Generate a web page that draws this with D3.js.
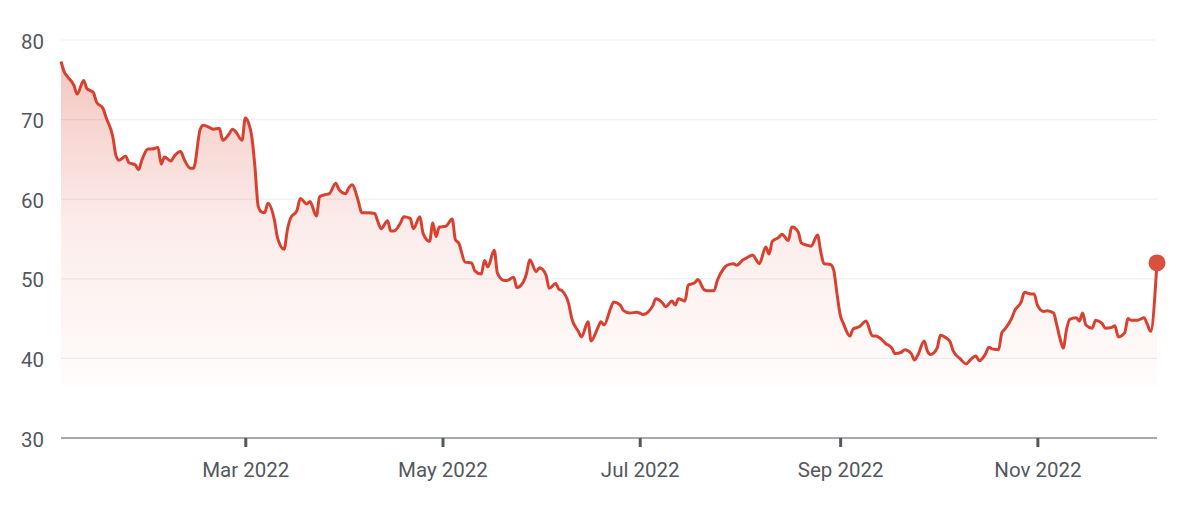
<!DOCTYPE html>
<html>
<head>
<meta charset="utf-8">
<script src="https://cdn.jsdelivr.net/npm/d3@7"></script>
<style>
  html, body { margin: 0; padding: 0; background: #fff; }
  #chart { width: 1200px; height: 506px; }
  text { font-family: Roboto, "Noto Sans", sans-serif; }
</style>
</head>
<body>
<div id="chart"></div>
<script>
// daily closes
const dates = [
  "2022-01-03","2022-01-04","2022-01-05","2022-01-07","2022-01-08","2022-01-10","2022-01-11","2022-01-13","2022-01-14","2022-01-16",
  "2022-01-17","2022-01-19","2022-01-20","2022-01-21","2022-01-23","2022-01-24","2022-01-26","2022-01-27","2022-01-28","2022-01-30",
  "2022-01-31","2022-02-02","2022-02-03","2022-02-04","2022-02-06","2022-02-07","2022-02-09","2022-02-10","2022-02-12","2022-02-13",
  "2022-02-15","2022-02-16","2022-02-18","2022-02-19","2022-02-21","2022-02-22","2022-02-24","2022-02-25","2022-02-26","2022-02-28",
  "2022-03-01","2022-03-02","2022-03-03","2022-03-04","2022-03-05","2022-03-06","2022-03-07","2022-03-08","2022-03-10","2022-03-11",
  "2022-03-13","2022-03-14","2022-03-15","2022-03-17","2022-03-18","2022-03-20","2022-03-21","2022-03-23","2022-03-24","2022-03-26",
  "2022-03-27","2022-03-29","2022-03-30","2022-04-01","2022-04-02","2022-04-03","2022-04-05","2022-04-06","2022-04-08","2022-04-10",
  "2022-04-11","2022-04-12","2022-04-14","2022-04-15","2022-04-16","2022-04-18","2022-04-19","2022-04-21","2022-04-22","2022-04-24",
  "2022-04-25","2022-04-27","2022-04-28","2022-04-29","2022-04-30","2022-05-02","2022-05-04","2022-05-05","2022-05-06","2022-05-08",
  "2022-05-10","2022-05-11","2022-05-13","2022-05-14","2022-05-15","2022-05-17","2022-05-18","2022-05-20","2022-05-21","2022-05-23",
  "2022-05-24","2022-05-26","2022-05-27","2022-05-28","2022-05-30","2022-05-31","2022-06-02","2022-06-03","2022-06-05","2022-06-06",
  "2022-06-07","2022-06-09","2022-06-10","2022-06-12","2022-06-13","2022-06-15","2022-06-16","2022-06-18","2022-06-19","2022-06-20",
  "2022-06-22","2022-06-23","2022-06-25","2022-06-26","2022-06-28","2022-06-30","2022-07-01","2022-07-02","2022-07-04","2022-07-05",
  "2022-07-06","2022-07-08","2022-07-09","2022-07-11","2022-07-12","2022-07-13","2022-07-15","2022-07-16","2022-07-18","2022-07-19",
  "2022-07-21","2022-07-22","2022-07-24","2022-07-25","2022-07-27","2022-07-28","2022-07-30","2022-07-31","2022-08-02","2022-08-03",
  "2022-08-05","2022-08-06","2022-08-07","2022-08-09","2022-08-10","2022-08-11","2022-08-13","2022-08-14","2022-08-16","2022-08-17",
  "2022-08-19","2022-08-20","2022-08-22","2022-08-23","2022-08-25","2022-08-26","2022-08-27","2022-08-29","2022-08-30","2022-08-31",
  "2022-09-01","2022-09-02","2022-09-04","2022-09-05","2022-09-07","2022-09-08","2022-09-09","2022-09-11","2022-09-12","2022-09-14",
  "2022-09-15","2022-09-17","2022-09-18","2022-09-20","2022-09-21","2022-09-23","2022-09-24","2022-09-25","2022-09-27","2022-09-28",
  "2022-09-29","2022-10-01","2022-10-02","2022-10-04","2022-10-05","2022-10-06","2022-10-08","2022-10-10","2022-10-11","2022-10-13",
  "2022-10-14","2022-10-16","2022-10-17","2022-10-18","2022-10-20","2022-10-21","2022-10-22","2022-10-24","2022-10-25","2022-10-27",
  "2022-10-28","2022-10-30","2022-10-31","2022-11-01","2022-11-03","2022-11-04","2022-11-06","2022-11-07","2022-11-08","2022-11-09",
  "2022-11-10","2022-11-11","2022-11-13","2022-11-14","2022-11-15","2022-11-16","2022-11-18","2022-11-19","2022-11-21","2022-11-22",
  "2022-11-24","2022-11-25","2022-11-26","2022-11-28","2022-11-29","2022-11-30","2022-12-02","2022-12-04","2022-12-05","2022-12-06",
  "2022-12-08"
];

const closes = [
  77.3, 76.0, 75.4, 74.3, 73.2, 74.9, 73.9, 73.4, 72.2, 71.4,
  70.2, 67.9, 65.5, 64.9, 65.4, 64.6, 64.3, 63.7, 64.9, 66.3,
  66.3, 66.5, 64.4, 65.3, 64.8, 65.4, 66.0, 65.1, 63.9, 63.9,
  68.7, 69.3, 69.0, 68.8, 68.9, 67.4, 68.2, 68.8, 68.5, 67.4,
  70.2, 69.6, 67.9, 64.0, 59.1, 58.4, 58.3, 59.5, 57.4, 55.1,
  53.7, 56.1, 57.6, 58.6, 60.1, 59.4, 59.7, 57.9, 60.3, 60.6,
  60.7, 62.0, 61.2, 60.7, 61.4, 61.8, 59.7, 58.3, 58.3, 58.2,
  57.2, 56.3, 57.3, 56.0, 56.0, 57.0, 57.8, 57.6, 56.3, 57.8,
  55.7, 54.7, 57.0, 55.3, 56.5, 56.6, 57.5, 54.9, 54.5, 52.1,
  52.0, 51.0, 50.6, 52.3, 51.5, 53.6, 50.7, 49.8, 49.8, 50.2,
  48.9, 49.6, 50.7, 52.4, 50.9, 51.4, 50.5, 48.8, 49.4, 48.7,
  48.5, 46.9, 45.0, 43.4, 42.7, 44.6, 42.2, 43.8, 44.6, 44.2,
  46.3, 47.1, 46.7, 46.0, 45.7, 45.8, 45.7, 45.5, 46.0, 46.6,
  47.5, 47.0, 46.5, 47.2, 46.7, 47.5, 47.2, 49.2, 49.5, 49.9,
  48.6, 48.5, 48.5, 49.8, 51.3, 51.7, 51.9, 51.7, 52.4, 52.6,
  53.0, 52.4, 51.9, 54.0, 53.1, 54.7, 55.2, 55.6, 54.8, 56.5,
  55.9, 54.5, 54.2, 54.1, 55.5, 53.4, 51.9, 51.8, 51.1, 48.2,
  45.5, 44.4, 42.8, 43.7, 44.0, 44.4, 44.7, 42.8, 42.8, 42.3,
  41.9, 41.3, 40.6, 40.8, 41.1, 40.6, 39.8, 40.4, 42.2, 40.9,
  40.5, 41.3, 42.9, 42.5, 42.1, 40.9, 40.0, 39.3, 39.7, 40.3,
  39.7, 40.6, 41.4, 41.2, 41.1, 43.2, 43.7, 45.0, 46.0, 47.1,
  48.3, 48.1, 48.1, 46.7, 45.9, 46.0, 45.7, 44.2, 42.5, 41.3,
  43.6, 44.9, 45.1, 44.7, 45.7, 44.2, 43.8, 44.8, 44.4, 43.8,
  43.9, 44.1, 42.7, 43.2, 45.0, 44.8, 44.8, 45.1, 44.3, 43.4,
  52.0
];

const yTicks = [30, 40, 50, 60, 70, 80];
const xTicks = ["2022-03-01", "2022-05-01", "2022-07-01", "2022-09-01", "2022-11-01"];

const width = 1200, height = 506;
const margin = { top: 40, right: 43, bottom: 68, left: 61 };
const lineColor = "#d8412f";
const textColor = "#54585e";
const fontSize = 20.5;
const areaFloor = 36.6;

const parse = d3.utcParse("%Y-%m-%d");
const data = dates.map((d, i) => ({ date: parse(d), value: closes[i] }));

const x = d3.scaleUtc()
  .domain([parse("2022-01-03"), parse("2022-12-08")])
  .range([margin.left, width - margin.right]);

const y = d3.scaleLinear()
  .domain([30, 80])
  .range([height - margin.bottom, margin.top]);

const svg = d3.select("#chart")
  .append("svg")
  .attr("width", width)
  .attr("height", height);

const defs = svg.append("defs");
const grad = defs.append("linearGradient")
  .attr("id", "fade")
  .attr("gradientUnits", "userSpaceOnUse")
  .attr("x1", 0).attr("x2", 0)
  .attr("y1", y(d3.max(closes)))
  .attr("y2", y(areaFloor));
grad.append("stop").attr("offset", "0%").attr("stop-color", lineColor).attr("stop-opacity", 0.3);
grad.append("stop").attr("offset", "50%").attr("stop-color", lineColor).attr("stop-opacity", 0.1);
grad.append("stop").attr("offset", "100%").attr("stop-color", lineColor).attr("stop-opacity", 0.015);

// grid
svg.append("g")
  .selectAll("line")
  .data(yTicks.filter(t => t > 30))
  .join("line")
  .attr("x1", margin.left)
  .attr("x2", width - margin.right)
  .attr("y1", d => y(d))
  .attr("y2", d => y(d))
  .attr("stroke", "#efefef")
  .attr("stroke-width", 1.2);

// y labels
svg.append("g")
  .selectAll("text")
  .data(yTicks)
  .join("text")
  .attr("x", 44)
  .attr("y", d => y(d))
  .attr("dy", "0.42em")
  .attr("text-anchor", "end")
  .attr("font-size", fontSize)
  .attr("fill", textColor)
  .text(d => d);

const area = d3.area()
  .x(d => x(d.date))
  .y0(y(areaFloor))
  .y1(d => y(d.value))
  .curve(d3.curveMonotoneX);

const line = d3.line()
  .x(d => x(d.date))
  .y(d => y(d.value))
  .curve(d3.curveMonotoneX);

svg.append("path")
  .datum(data)
  .attr("d", area)
  .attr("fill", "url(#fade)");

// x axis
const xAxis = svg.append("g")
  .attr("transform", `translate(0,${y(30)})`)
  .call(d3.axisBottom(x)
    .tickValues(xTicks.map(parse))
    .tickFormat(d3.utcFormat("%b %Y"))
    .tickSize(9)
    .tickPadding(15));
xAxis.select(".domain")
  .attr("stroke", "#8a8d92")
  .attr("stroke-width", 1.5)
  .attr("d", `M${margin.left},0H${width - margin.right}`);
xAxis.selectAll(".tick line")
  .attr("stroke", textColor)
  .attr("stroke-width", 3);
xAxis.selectAll(".tick text")
  .attr("font-size", fontSize)
  .attr("fill", textColor)
  .attr("font-family", "Roboto, 'Noto Sans', sans-serif");

svg.append("path")
  .datum(data)
  .attr("d", line)
  .attr("fill", "none")
  .attr("stroke", lineColor)
  .attr("stroke-width", 3)
  .attr("stroke-linejoin", "round");

const last = data[data.length - 1];
svg.append("circle")
  .attr("cx", x(last.date))
  .attr("cy", y(last.value))
  .attr("r", 8.5)
  .attr("fill", "#d9503f");
</script>
</body>
</html>
